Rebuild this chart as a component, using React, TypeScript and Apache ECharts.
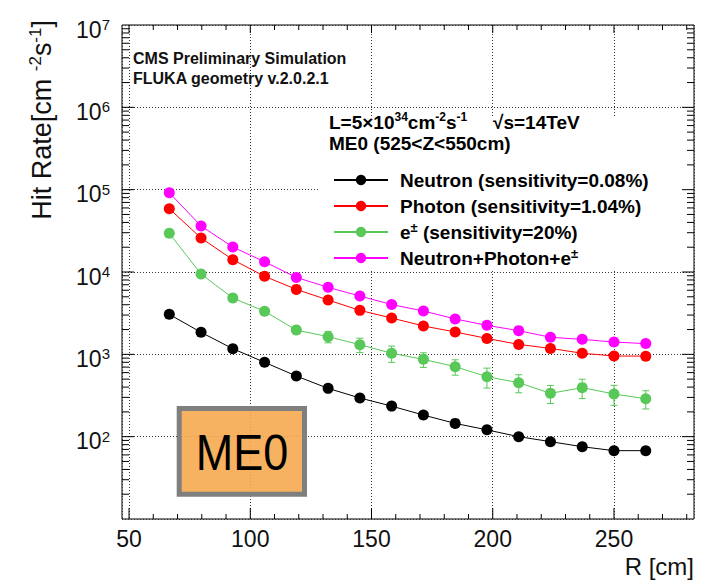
import React, { useEffect, useRef } from "react";
import * as echarts from "echarts";

// ---- data ----
const radius = [66.6, 79.7, 92.8, 105.9, 119.0, 132.1, 145.2, 158.3, 171.4, 184.5, 197.6, 210.7, 223.8, 236.9, 250.0, 263.1];
const neutron = [3060, 1850, 1170, 800, 545, 386, 295, 235, 183, 145, 121, 100, 87, 75.5, 67.6, 67.6];
const photon = [58700, 25900, 14100, 8860, 6150, 4570, 3420, 2760, 2210, 1870, 1560, 1320, 1180, 1030, 955, 950];
const electron = [29500, 9460, 4830, 3330, 1970, 1640, 1310, 1030, 869, 708, 535, 453, 336, 394, 330, 289];
const electronErr = [500, 200, 120, 150, 200, 260, 260, 230, 175, 150, 145, 112, 83, 104, 90, 72];
const total = [91800, 36200, 20100, 13300, 8600, 6510, 5110, 4020, 3360, 2690, 2250, 1940, 1610, 1520, 1410, 1350];

const seriesNames = [
  "Neutron (sensitivity=0.08%)",
  "Photon (sensitivity=1.04%)",
  "e± (sensitivity=20%)",
  "Neutron+Photon+e±",
];

// axis tick positions
const xMajorTicks = [50, 100, 150, 200, 250];
const yMajorTicks = [100, 1000, 10000, 100000, 1000000];
const xMin = 47.1;
const xMax = 283;
const yMin = 10;
const yMax = 1e7;

const FONT = "'Liberation Sans', Arial, Helvetica, sans-serif";
const GREEN = "#58C858";

function buildOption() {
  const xMinorTicks: number[] = [];
  for (let v = 60; v <= 280; v += 10) if (v % 50 !== 0) xMinorTicks.push(v);
  const yMinorTicks: number[] = [];
  for (let k = 1; k <= 6; k++) for (let m = 2; m <= 9; m++) yMinorTicks.push(m * Math.pow(10, k));

  const lineSeries = (name: string, values: number[], color: string, z: number) => ({
    type: "line",
    name,
    data: radius.map((r, i) => [r, values[i]]),
    symbol: "circle",
    symbolSize: 11,
    lineStyle: { width: 1, color },
    itemStyle: { color },
    z,
  });

  const seg = (x1: number, y1: number, x2: number, y2: number, stroke = "#000") => ({
    type: "line",
    shape: { x1, y1, x2, y2 },
    style: { stroke, lineWidth: 1 },
  });

  return {
    animation: false,
    backgroundColor: "#fff",
    grid: {
      left: 122,
      top: 25,
      width: 572,
      height: 494,
      show: true,
      borderColor: "#000",
      borderWidth: 1,
      backgroundColor: "transparent",
    },
    xAxis: {
      type: "value",
      min: xMin,
      max: xMax,
      splitNumber: 5,
      axisLine: { show: false },
      axisTick: { show: false },
      axisLabel: {
        fontSize: 23,
        color: "#111",
        fontFamily: FONT,
        margin: 8,
        showMinLabel: false,
        showMaxLabel: false,
      },
      splitLine: { show: true, lineStyle: { color: "#333", width: 1, type: [1, 2] } },
    },
    yAxis: {
      type: "log",
      logBase: 10,
      min: yMin,
      max: yMax,
      axisLine: { show: false },
      axisTick: { show: false },
      axisLabel: {
        color: "#111",
        fontFamily: FONT,
        margin: 12,
        showMinLabel: false,
        padding: [8, 0, 0, 0],
        formatter: (v: number) => `{b|10}{s|${Math.round(Math.log10(v))}}`,
        rich: {
          b: { fontSize: 23, lineHeight: 24, verticalAlign: "bottom", fontFamily: FONT, color: "#111" },
          s: { fontSize: 15, lineHeight: 16, verticalAlign: "top", fontFamily: FONT, color: "#111" },
        },
      },
      splitLine: { show: true, lineStyle: { color: "#333", width: 1, type: [1, 2] } },
    },
    legend: {
      orient: "vertical",
      left: 333,
      top: 169,
      padding: 0,
      itemWidth: 54,
      itemHeight: 13,
      itemGap: 4,
      selectedMode: false,
      data: seriesNames,
      formatter: (name: string) => name.replace(/±/g, "{s|±}"),
      textStyle: {
        fontSize: 19,
        fontWeight: "bold",
        fontFamily: FONT,
        color: "#000",
        lineHeight: 22,
        padding: [0, 0, 0, 7],
        rich: {
          s: { fontSize: 13, lineHeight: 12, verticalAlign: "top", fontWeight: "bold", fontFamily: FONT, color: "#000" },
        },
      },
    },
    graphic: [
      // white legend pad
      { type: "rect", z: 1, shape: { x: 320, y: 117, width: 373, height: 153 }, style: { fill: "#fff" }, silent: true },
      // ME0 badge
      {
        type: "rect",
        z: 1,
        shape: { x: 179.2, y: 408.5, width: 125.3, height: 85.7 },
        style: { fill: "rgba(245,170,80,0.9)", stroke: "#7f7f7f", lineWidth: 5 },
        silent: true,
      },
      {
        type: "text",
        z: 6,
        x: 242,
        y: 453,
        scaleX: 0.9,
        style: { text: "ME0", fontSize: 50, fontFamily: FONT, fill: "#000", align: "center", verticalAlign: "middle" },
      },
      {
        type: "text",
        z: 6,
        x: 133,
        y: 58,
        style: { text: "CMS Preliminary Simulation", fontSize: 16, fontWeight: "bold", fontFamily: FONT, fill: "#111", verticalAlign: "middle" },
      },
      {
        type: "text",
        z: 6,
        x: 133,
        y: 78,
        style: { text: "FLUKA geometry v.2.0.2.1", fontSize: 16, fontWeight: "bold", fontFamily: FONT, fill: "#111", verticalAlign: "middle" },
      },
      {
        type: "text",
        z: 6,
        x: 329,
        y: 122,
        style: {
          text: "L=5×10{s|34}cm{s|-2}s{s|-1}",
          fontSize: 19,
          fontWeight: "bold",
          fontFamily: FONT,
          fill: "#000",
          verticalAlign: "middle",
          lineHeight: 22,
          rich: { s: { fontSize: 12, lineHeight: 12, verticalAlign: "top", fontWeight: "bold", fontFamily: FONT, fill: "#000" } },
        },
      },
      {
        type: "text",
        z: 6,
        x: 493,
        y: 122,
        style: { text: "√s=14TeV", fontSize: 19, fontWeight: "bold", fontFamily: FONT, fill: "#000", verticalAlign: "middle" },
      },
      {
        type: "text",
        z: 6,
        x: 329,
        y: 143,
        style: { text: "ME0 (525<Z<550cm)", fontSize: 19, fontWeight: "bold", fontFamily: FONT, fill: "#000", verticalAlign: "middle" },
      },
      {
        type: "text",
        z: 6,
        x: 694,
        y: 566,
        style: { text: "R [cm]", fontSize: 24, fontFamily: FONT, fill: "#111", align: "right", verticalAlign: "middle" },
      },
      {
        type: "text",
        z: 6,
        x: 42,
        y: 20,
        rotation: Math.PI / 2,
        style: {
          text: "Hit Rate[cm {s|-2}s{s|-1}]",
          fontSize: 27,
          fontFamily: FONT,
          fill: "#111",
          align: "right",
          verticalAlign: "middle",
          lineHeight: 31,
          rich: { s: { fontSize: 17, lineHeight: 18, verticalAlign: "top", fontFamily: FONT, fill: "#111" } },
        },
      },
    ],
    series: [
      lineSeries(seriesNames[0], neutron, "#000000", 3),
      lineSeries(seriesNames[1], photon, "#ff0000", 3),
      lineSeries(seriesNames[2], electron, GREEN, 3),
      lineSeries(seriesNames[3], total, "#ff00ff", 3),
      {
        type: "custom",
        name: "e± errors",
        data: radius.map((r, i) => [r, electron[i], electronErr[i]]),
        encode: { x: 0, y: 1 },
        z: 2,
        silent: true,
        renderItem: (_params: any, api: any) => {
          const x = api.value(0);
          const y = api.value(1);
          const e = api.value(2);
          const hi = api.coord([x, y + e]);
          const lo = api.coord([x, Math.max(y - e, 1e-3)]);
          const c = 3.5;
          return {
            type: "group",
            children: [
              seg(hi[0], hi[1], lo[0], lo[1], GREEN),
              seg(hi[0] - c, hi[1], hi[0] + c, hi[1], GREEN),
              seg(lo[0] - c, lo[1], lo[0] + c, lo[1], GREEN),
            ],
          };
        },
      },
      {
        type: "custom",
        name: "ticks",
        data: [[100, 100]],
        encode: { x: 0, y: 1 },
        z: 5,
        silent: true,
        clip: false,
        renderItem: (params: any, api: any) => {
          const cs = params.coordSys;
          const left = cs.x;
          const top = cs.y;
          const right = cs.x + cs.width;
          const bottom = cs.y + cs.height;
          const children: any[] = [];
          xMajorTicks.forEach((v) => {
            const p = api.coord([v, yMin])[0];
            children.push(seg(p, bottom, p, bottom - 11));
            children.push(seg(p, top, p, top + 8));
          });
          xMinorTicks.forEach((v) => {
            const p = api.coord([v, yMin])[0];
            children.push(seg(p, bottom, p, bottom - 5));
            children.push(seg(p, top, p, top + 5));
          });
          yMajorTicks.forEach((v) => {
            const p = api.coord([xMin, v])[1];
            children.push(seg(left, p, left + 12, p));
            children.push(seg(right, p, right - 12, p));
          });
          yMinorTicks.forEach((v) => {
            const p = api.coord([xMin, v])[1];
            children.push(seg(left, p, left + 7, p));
            children.push(seg(right, p, right - 7, p));
          });
          return { type: "group", children };
        },
      },
    ],
  };
}

export default function App() {
  const ref = useRef<HTMLDivElement>(null);
  useEffect(() => {
    if (!ref.current) return;
    const chart = echarts.init(ref.current, null, { renderer: "svg" });
    chart.setOption(buildOption() as any);
    return () => chart.dispose();
  }, []);
  return (
    <div
      ref={ref}
      style={{ position: "fixed", left: 0, top: 0, width: 708, height: 580, background: "#fff" }}
    />
  );
}
